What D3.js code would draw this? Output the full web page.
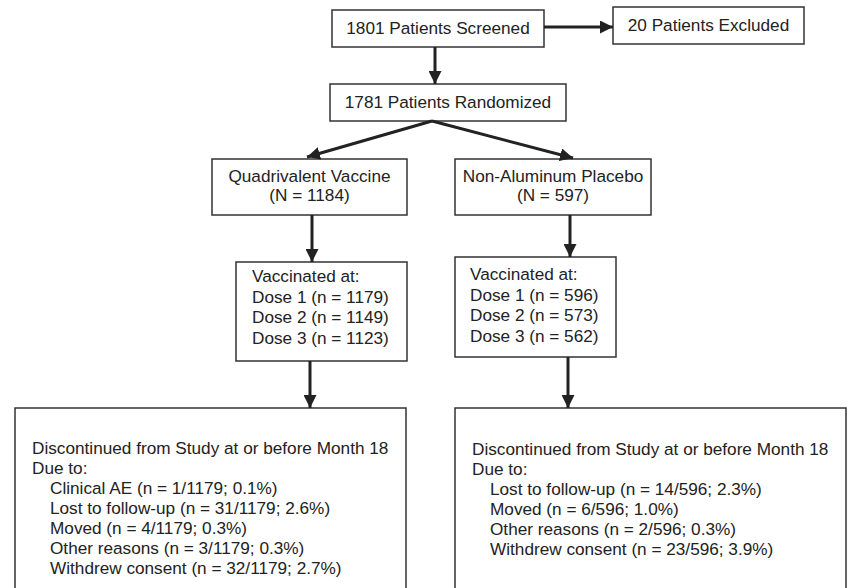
<!DOCTYPE html>
<html>
<head>
<meta charset="utf-8">
<script src="https://cdn.jsdelivr.net/npm/d3@7"></script>
<style>
	body { margin: 0; background: #fff; }
	svg { display: block; }
	text { font-family: "Liberation Sans", Arial, sans-serif; font-size: 17.2px; fill: #222; }
</style>
</head>
<body>
<script>
// the texts of the flow chart
var screenedLines = ["1801 Patients Screened"];
var excludedLines = ["20 Patients Excluded"];
var randomizedLines = ["1781 Patients Randomized"];
var vaccineArmLines = ["Quadrivalent Vaccine", "(N = 1184)"];
var placeboArmLines = ["Non-Aluminum Placebo", "(N = 597)"];
var vaccineDoseLines = ["Vaccinated at:", "Dose 1 (n = 1179)", "Dose 2 (n = 1149)", "Dose 3 (n = 1123)"];
var placeboDoseLines = ["Vaccinated at:", "Dose 1 (n = 596)", "Dose 2 (n = 573)", "Dose 3 (n = 562)"];
var vaccineDiscLines = ["Discontinued from Study at or before Month 18", "Due to:",
	"  Clinical AE (n = 1/1179; 0.1%)",
	"  Lost to follow-up (n = 31/1179; 2.6%)",
	"  Moved (n = 4/1179; 0.3%)",
	"  Other reasons (n = 3/1179; 0.3%)",
	"  Withdrew consent (n = 32/1179; 2.7%)"];
var placeboDiscLines = ["Discontinued from Study at or before Month 18", "Due to:",
	"  Lost to follow-up (n = 14/596; 2.3%)",
	"  Moved (n = 6/596; 1.0%)",
	"  Other reasons (n = 2/596; 0.3%)",
	"  Withdrew consent (n = 23/596; 3.9%)"];

var svgDims = { width: 850, height: 588 };

var svg = d3.select("body").append("svg")
	.attr("width", svgDims.width)
	.attr("height", svgDims.height);

// layout of the boxes (x0, y0, x1, y1), text anchor and first baseline
var boxes = [
	{ id: "screened", lines: screenedLines, x0: 332, y0: 10, x1: 544, y1: 47, align: "middle", base: 34, step: 20 },
	{ id: "excluded", lines: excludedLines, x0: 613, y0: 7, x1: 804, y1: 44, align: "middle", base: 31, step: 20 },
	{ id: "randomized", lines: randomizedLines, x0: 330, y0: 84, x1: 566, y1: 121, align: "middle", base: 108, step: 20 },
	{ id: "vaccineArm", lines: vaccineArmLines, x0: 212, y0: 159, x1: 407, y1: 215, align: "middle", base: 182, step: 19 },
	{ id: "placeboArm", lines: placeboArmLines, x0: 455, y0: 159, x1: 651, y1: 215, align: "middle", base: 182, step: 19 },
	{ id: "vaccineDose", lines: vaccineDoseLines, x0: 236, y0: 262, x1: 407, y1: 361, align: "start", tx: 252, base: 282, step: 20.5 },
	{ id: "placeboDose", lines: placeboDoseLines, x0: 455, y0: 257, x1: 616, y1: 357, align: "start", tx: 470, base: 280, step: 20.5 },
	{ id: "vaccineDisc", lines: vaccineDiscLines, x0: 15, y0: 408, x1: 406, y1: 600, align: "start", tx: 32, base: 454, step: 20 },
	{ id: "placeboDisc", lines: placeboDiscLines, x0: 455, y0: 408, x1: 846, y1: 600, align: "start", tx: 472, base: 455, step: 20 }
];

// arrows [x1, y1, x2, y2], tip at the end
var arrows = [
	[544, 27, 613, 27],
	[435, 47, 435, 84],
	[432, 121, 307, 157],
	[432, 121, 573, 158],
	[312, 215, 312, 262],
	[570, 215, 570, 257],
	[310, 361, 310, 408],
	[568, 357, 568, 408]
];

svg.append("defs").append("marker")
	.attr("id", "head")
	.attr("markerUnits", "userSpaceOnUse")
	.attr("viewBox", "0 0 12 12")
	.attr("refX", 12)
	.attr("refY", 6)
	.attr("markerWidth", 13)
	.attr("markerHeight", 13)
	.attr("orient", "auto")
	.append("path")
	.attr("d", "M0,0 L12,6 L0,12 Z")
	.attr("fill", "#222");

svg.selectAll("rect.box")
	.data(boxes)
	.enter().append("rect")
	.attr("class", "box")
	.attr("x", function(d) { return d.x0; })
	.attr("y", function(d) { return d.y0; })
	.attr("width", function(d) { return d.x1 - d.x0; })
	.attr("height", function(d) { return d.y1 - d.y0; })
	.attr("fill", "#fff")
	.attr("stroke", "#333")
	.attr("stroke-width", 1.5);

svg.selectAll("line.arrow")
	.data(arrows)
	.enter().append("line")
	.attr("class", "arrow")
	.attr("x1", function(d) { return d[0]; })
	.attr("y1", function(d) { return d[1]; })
	.attr("x2", function(d) { return d[2]; })
	.attr("y2", function(d) { return d[3]; })
	.attr("stroke", "#222")
	.attr("stroke-width", 3)
	.attr("marker-end", "url(#head)");

boxes.forEach(function(b) {
	var g = svg.append("g").attr("id", b.id);
	g.selectAll("text")
		.data(b.lines)
		.enter().append("text")
		.attr("x", function(d) {
			if (b.align == "middle") return (b.x0 + b.x1) / 2;
			return d.indexOf("  ") == 0 ? b.tx + 18 : b.tx;
		})
		.attr("y", function(d, i) { return b.base + i * b.step; })
		.attr("text-anchor", b.align)
		.text(function(d) { return d.trim(); });
});
</script>
</body>
</html>
